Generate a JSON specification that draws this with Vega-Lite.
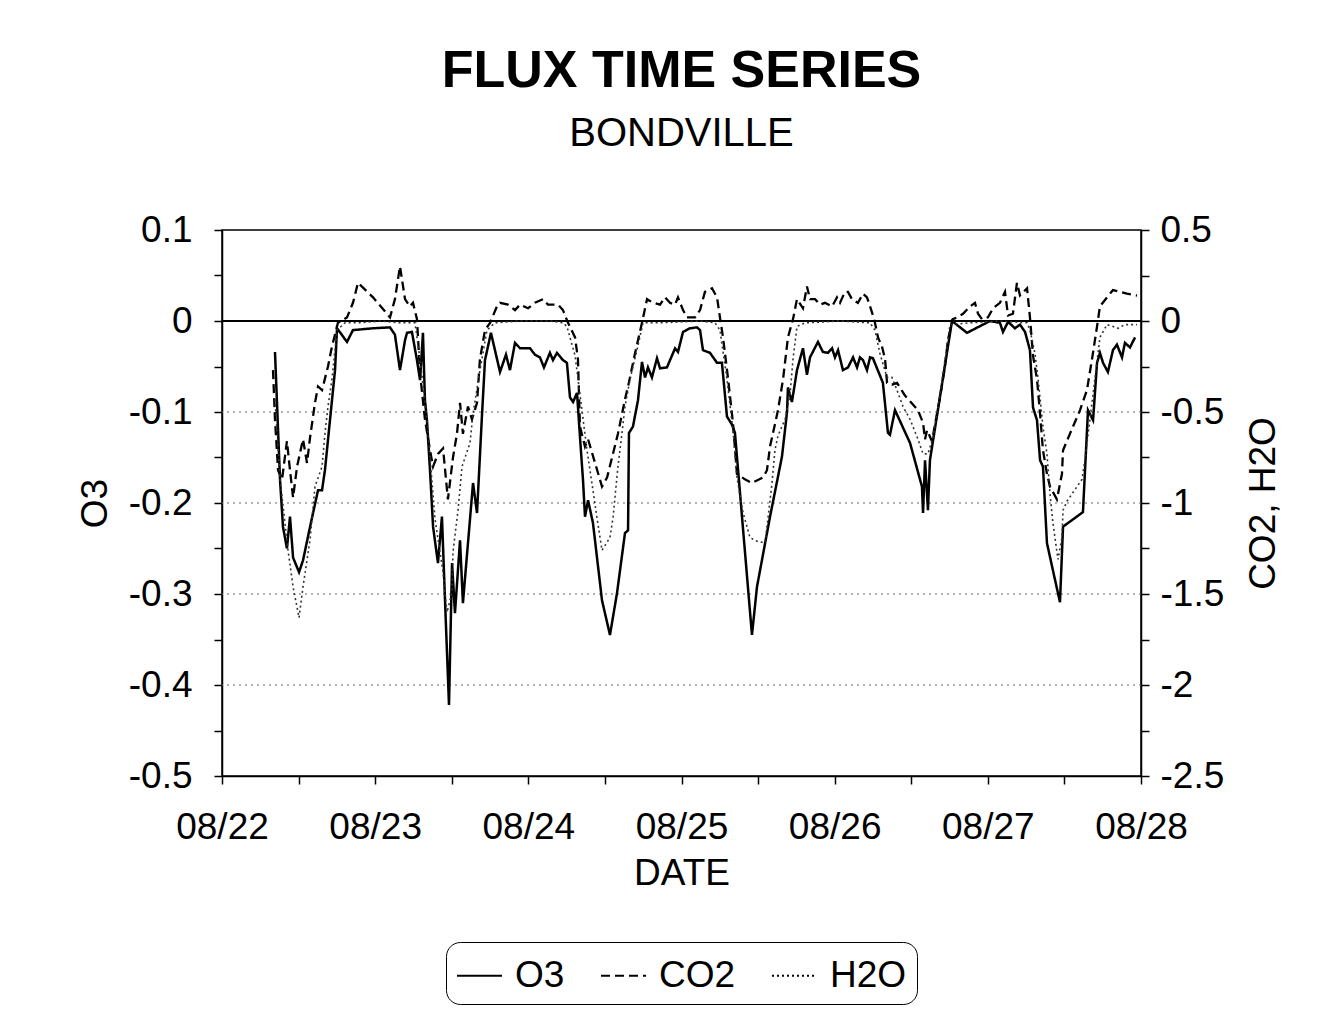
{
  "$schema": "https://vega.github.io/schema/vega-lite/v6.json",
  "autosize": {"type": "none"},
  "padding": {"left": 222, "top": 230, "right": 197, "bottom": 243},
  "width": 919,
  "height": 546,
  "background": "white",
  "title": {
    "text": "FLUX TIME SERIES",
    "subtitle": "BONDVILLE",
    "fontSize": 52,
    "fontWeight": "bold",
    "subtitleFontSize": 40,
    "color": "black",
    "subtitleColor": "black",
    "anchor": "middle",
    "offset": 56,
    "subtitlePadding": 16
  },
  "config": {
    "font": "Liberation Sans",
    "view": {"stroke": "black", "strokeWidth": 1.5},
    "axis": {
      "labelColor": "black",
      "titleColor": "black",
      "domainColor": "black",
      "tickColor": "black",
      "domainWidth": 1.5,
      "tickWidth": 1.5,
      "labelFontSize": 37,
      "titleFontSize": 37,
      "titleFontWeight": "normal",
      "grid": false,
      "labelOverlap": false,
      "labelFlush": false
    }
  },
  "data": {
    "values": [
      {"series": "O3", "day": 22.346, "value": -0.034},
      {"series": "O3", "day": 22.366, "value": -0.12},
      {"series": "O3", "day": 22.379, "value": -0.175},
      {"series": "O3", "day": 22.398, "value": -0.226},
      {"series": "O3", "day": 22.424, "value": -0.25},
      {"series": "O3", "day": 22.444, "value": -0.215},
      {"series": "O3", "day": 22.464, "value": -0.26},
      {"series": "O3", "day": 22.503, "value": -0.276},
      {"series": "O3", "day": 22.529, "value": -0.263},
      {"series": "O3", "day": 22.575, "value": -0.226},
      {"series": "O3", "day": 22.627, "value": -0.186},
      {"series": "O3", "day": 22.653, "value": -0.186},
      {"series": "O3", "day": 22.672, "value": -0.164},
      {"series": "O3", "day": 22.705, "value": -0.109},
      {"series": "O3", "day": 22.738, "value": -0.054},
      {"series": "O3", "day": 22.751, "value": -0.008},
      {"series": "O3", "day": 22.816, "value": -0.023},
      {"series": "O3", "day": 22.855, "value": -0.01},
      {"series": "O3", "day": 22.986, "value": -0.008},
      {"series": "O3", "day": 23.097, "value": -0.007},
      {"series": "O3", "day": 23.129, "value": -0.015},
      {"series": "O3", "day": 23.162, "value": -0.054},
      {"series": "O3", "day": 23.195, "value": -0.021},
      {"series": "O3", "day": 23.208, "value": -0.013},
      {"series": "O3", "day": 23.24, "value": -0.012},
      {"series": "O3", "day": 23.273, "value": -0.043},
      {"series": "O3", "day": 23.293, "value": -0.065},
      {"series": "O3", "day": 23.312, "value": -0.013},
      {"series": "O3", "day": 23.325, "value": -0.087},
      {"series": "O3", "day": 23.338, "value": -0.109},
      {"series": "O3", "day": 23.358, "value": -0.164},
      {"series": "O3", "day": 23.378, "value": -0.226},
      {"series": "O3", "day": 23.41, "value": -0.266},
      {"series": "O3", "day": 23.436, "value": -0.215},
      {"series": "O3", "day": 23.456, "value": -0.307},
      {"series": "O3", "day": 23.482, "value": -0.422},
      {"series": "O3", "day": 23.502, "value": -0.266},
      {"series": "O3", "day": 23.521, "value": -0.321},
      {"series": "O3", "day": 23.554, "value": -0.241},
      {"series": "O3", "day": 23.573, "value": -0.31},
      {"series": "O3", "day": 23.639, "value": -0.178},
      {"series": "O3", "day": 23.665, "value": -0.211},
      {"series": "O3", "day": 23.697, "value": -0.105},
      {"series": "O3", "day": 23.717, "value": -0.043},
      {"series": "O3", "day": 23.756, "value": -0.013},
      {"series": "O3", "day": 23.815, "value": -0.056},
      {"series": "O3", "day": 23.854, "value": -0.037},
      {"series": "O3", "day": 23.88, "value": -0.054},
      {"series": "O3", "day": 23.913, "value": -0.024},
      {"series": "O3", "day": 23.946, "value": -0.03},
      {"series": "O3", "day": 24.011, "value": -0.03},
      {"series": "O3", "day": 24.043, "value": -0.037},
      {"series": "O3", "day": 24.076, "value": -0.04},
      {"series": "O3", "day": 24.102, "value": -0.051},
      {"series": "O3", "day": 24.141, "value": -0.035},
      {"series": "O3", "day": 24.161, "value": -0.043},
      {"series": "O3", "day": 24.187, "value": -0.035},
      {"series": "O3", "day": 24.226, "value": -0.043},
      {"series": "O3", "day": 24.252, "value": -0.046},
      {"series": "O3", "day": 24.272, "value": -0.084},
      {"series": "O3", "day": 24.292, "value": -0.089},
      {"series": "O3", "day": 24.318, "value": -0.079},
      {"series": "O3", "day": 24.337, "value": -0.127},
      {"series": "O3", "day": 24.357, "value": -0.175},
      {"series": "O3", "day": 24.37, "value": -0.215},
      {"series": "O3", "day": 24.39, "value": -0.197},
      {"series": "O3", "day": 24.422, "value": -0.222},
      {"series": "O3", "day": 24.481, "value": -0.307},
      {"series": "O3", "day": 24.533, "value": -0.345},
      {"series": "O3", "day": 24.579, "value": -0.299},
      {"series": "O3", "day": 24.631, "value": -0.233},
      {"series": "O3", "day": 24.651, "value": -0.23},
      {"series": "O3", "day": 24.657, "value": -0.123},
      {"series": "O3", "day": 24.683, "value": -0.116},
      {"series": "O3", "day": 24.716, "value": -0.087},
      {"series": "O3", "day": 24.742, "value": -0.045},
      {"series": "O3", "day": 24.762, "value": -0.062},
      {"series": "O3", "day": 24.781, "value": -0.051},
      {"series": "O3", "day": 24.807, "value": -0.062},
      {"series": "O3", "day": 24.84, "value": -0.041},
      {"series": "O3", "day": 24.86, "value": -0.052},
      {"series": "O3", "day": 24.905, "value": -0.051},
      {"series": "O3", "day": 24.958, "value": -0.03},
      {"series": "O3", "day": 24.977, "value": -0.034},
      {"series": "O3", "day": 25.01, "value": -0.012},
      {"series": "O3", "day": 25.055, "value": -0.008},
      {"series": "O3", "day": 25.101, "value": -0.007},
      {"series": "O3", "day": 25.121, "value": -0.01},
      {"series": "O3", "day": 25.14, "value": -0.032},
      {"series": "O3", "day": 25.186, "value": -0.035},
      {"series": "O3", "day": 25.232, "value": -0.046},
      {"series": "O3", "day": 25.264, "value": -0.046},
      {"series": "O3", "day": 25.297, "value": -0.105},
      {"series": "O3", "day": 25.33, "value": -0.114},
      {"series": "O3", "day": 25.349, "value": -0.123},
      {"series": "O3", "day": 25.46, "value": -0.345},
      {"series": "O3", "day": 25.493, "value": -0.292},
      {"series": "O3", "day": 25.578, "value": -0.215},
      {"series": "O3", "day": 25.656, "value": -0.149},
      {"series": "O3", "day": 25.689, "value": -0.1},
      {"series": "O3", "day": 25.695, "value": -0.073},
      {"series": "O3", "day": 25.721, "value": -0.089},
      {"series": "O3", "day": 25.754, "value": -0.054},
      {"series": "O3", "day": 25.793, "value": -0.03},
      {"series": "O3", "day": 25.819, "value": -0.059},
      {"series": "O3", "day": 25.839, "value": -0.04},
      {"series": "O3", "day": 25.891, "value": -0.023},
      {"series": "O3", "day": 25.923, "value": -0.034},
      {"series": "O3", "day": 25.956, "value": -0.035},
      {"series": "O3", "day": 25.983, "value": -0.03},
      {"series": "O3", "day": 26.002, "value": -0.04},
      {"series": "O3", "day": 26.022, "value": -0.032},
      {"series": "O3", "day": 26.054, "value": -0.054},
      {"series": "O3", "day": 26.087, "value": -0.051},
      {"series": "O3", "day": 26.12, "value": -0.04},
      {"series": "O3", "day": 26.146, "value": -0.051},
      {"series": "O3", "day": 26.165, "value": -0.04},
      {"series": "O3", "day": 26.185, "value": -0.043},
      {"series": "O3", "day": 26.211, "value": -0.054},
      {"series": "O3", "day": 26.231, "value": -0.04},
      {"series": "O3", "day": 26.25, "value": -0.041},
      {"series": "O3", "day": 26.315, "value": -0.068},
      {"series": "O3", "day": 26.348, "value": -0.123},
      {"series": "O3", "day": 26.361, "value": -0.125},
      {"series": "O3", "day": 26.394, "value": -0.098},
      {"series": "O3", "day": 26.492, "value": -0.134},
      {"series": "O3", "day": 26.57, "value": -0.182},
      {"series": "O3", "day": 26.577, "value": -0.211},
      {"series": "O3", "day": 26.59, "value": -0.153},
      {"series": "O3", "day": 26.609, "value": -0.208},
      {"series": "O3", "day": 26.622, "value": -0.153},
      {"series": "O3", "day": 26.766, "value": 0.0},
      {"series": "O3", "day": 26.864, "value": -0.013},
      {"series": "O3", "day": 27.014, "value": 0.0},
      {"series": "O3", "day": 27.079, "value": -0.002},
      {"series": "O3", "day": 27.099, "value": -0.012},
      {"series": "O3", "day": 27.132, "value": -0.001},
      {"series": "O3", "day": 27.177, "value": -0.008},
      {"series": "O3", "day": 27.21, "value": -0.004},
      {"series": "O3", "day": 27.243, "value": -0.012},
      {"series": "O3", "day": 27.275, "value": -0.032},
      {"series": "O3", "day": 27.295, "value": -0.095},
      {"series": "O3", "day": 27.321, "value": -0.109},
      {"series": "O3", "day": 27.341, "value": -0.153},
      {"series": "O3", "day": 27.36, "value": -0.16},
      {"series": "O3", "day": 27.386, "value": -0.244},
      {"series": "O3", "day": 27.425, "value": -0.274},
      {"series": "O3", "day": 27.471, "value": -0.309},
      {"series": "O3", "day": 27.491, "value": -0.226},
      {"series": "O3", "day": 27.621, "value": -0.21},
      {"series": "O3", "day": 27.654, "value": -0.098},
      {"series": "O3", "day": 27.687, "value": -0.109},
      {"series": "O3", "day": 27.713, "value": -0.046},
      {"series": "O3", "day": 27.732, "value": -0.035},
      {"series": "O3", "day": 27.752, "value": -0.046},
      {"series": "O3", "day": 27.784, "value": -0.056},
      {"series": "O3", "day": 27.817, "value": -0.032},
      {"series": "O3", "day": 27.843, "value": -0.026},
      {"series": "O3", "day": 27.876, "value": -0.04},
      {"series": "O3", "day": 27.895, "value": -0.024},
      {"series": "O3", "day": 27.928, "value": -0.029},
      {"series": "O3", "day": 27.961, "value": -0.018},

      {"series": "CO2", "day": 22.333, "value": -0.27},
      {"series": "CO2", "day": 22.346, "value": -0.54},
      {"series": "CO2", "day": 22.366, "value": -0.82},
      {"series": "CO2", "day": 22.392, "value": -0.87},
      {"series": "CO2", "day": 22.424, "value": -0.66},
      {"series": "CO2", "day": 22.444, "value": -0.82},
      {"series": "CO2", "day": 22.464, "value": -0.97},
      {"series": "CO2", "day": 22.49, "value": -0.8},
      {"series": "CO2", "day": 22.529, "value": -0.65},
      {"series": "CO2", "day": 22.555, "value": -0.78},
      {"series": "CO2", "day": 22.575, "value": -0.64},
      {"series": "CO2", "day": 22.607, "value": -0.45},
      {"series": "CO2", "day": 22.627, "value": -0.36},
      {"series": "CO2", "day": 22.653, "value": -0.38},
      {"series": "CO2", "day": 22.692, "value": -0.25},
      {"series": "CO2", "day": 22.718, "value": -0.14},
      {"series": "CO2", "day": 22.757, "value": -0.01},
      {"series": "CO2", "day": 22.816, "value": 0.02},
      {"series": "CO2", "day": 22.855, "value": 0.1},
      {"series": "CO2", "day": 22.888, "value": 0.21},
      {"series": "CO2", "day": 22.986, "value": 0.13},
      {"series": "CO2", "day": 23.097, "value": 0.02},
      {"series": "CO2", "day": 23.129, "value": 0.12},
      {"series": "CO2", "day": 23.162, "value": 0.3},
      {"series": "CO2", "day": 23.195, "value": 0.12},
      {"series": "CO2", "day": 23.227, "value": 0.08},
      {"series": "CO2", "day": 23.247, "value": 0.1},
      {"series": "CO2", "day": 23.273, "value": 0.01},
      {"series": "CO2", "day": 23.293, "value": -0.29},
      {"series": "CO2", "day": 23.325, "value": -0.54},
      {"series": "CO2", "day": 23.358, "value": -0.71},
      {"series": "CO2", "day": 23.378, "value": -0.8},
      {"series": "CO2", "day": 23.41, "value": -0.73},
      {"series": "CO2", "day": 23.443, "value": -0.7},
      {"series": "CO2", "day": 23.475, "value": -0.98},
      {"series": "CO2", "day": 23.508, "value": -0.75},
      {"series": "CO2", "day": 23.534, "value": -0.62},
      {"series": "CO2", "day": 23.554, "value": -0.45},
      {"series": "CO2", "day": 23.573, "value": -0.62},
      {"series": "CO2", "day": 23.606, "value": -0.47},
      {"series": "CO2", "day": 23.632, "value": -0.54},
      {"series": "CO2", "day": 23.665, "value": -0.45},
      {"series": "CO2", "day": 23.684, "value": -0.21},
      {"series": "CO2", "day": 23.717, "value": -0.05},
      {"series": "CO2", "day": 23.75, "value": -0.01},
      {"series": "CO2", "day": 23.795, "value": 0.08},
      {"series": "CO2", "day": 23.815, "value": 0.1},
      {"series": "CO2", "day": 23.867, "value": 0.09},
      {"series": "CO2", "day": 23.913, "value": 0.06},
      {"series": "CO2", "day": 23.946, "value": 0.09},
      {"series": "CO2", "day": 23.998, "value": 0.07},
      {"series": "CO2", "day": 24.043, "value": 0.1},
      {"series": "CO2", "day": 24.096, "value": 0.12},
      {"series": "CO2", "day": 24.128, "value": 0.09},
      {"series": "CO2", "day": 24.194, "value": 0.09},
      {"series": "CO2", "day": 24.226, "value": 0.06},
      {"series": "CO2", "day": 24.259, "value": -0.01},
      {"series": "CO2", "day": 24.305, "value": -0.09},
      {"series": "CO2", "day": 24.324, "value": -0.21},
      {"series": "CO2", "day": 24.337, "value": -0.58},
      {"series": "CO2", "day": 24.37, "value": -0.69},
      {"series": "CO2", "day": 24.39, "value": -0.65},
      {"series": "CO2", "day": 24.481, "value": -0.91},
      {"series": "CO2", "day": 24.514, "value": -0.86},
      {"series": "CO2", "day": 24.585, "value": -0.62},
      {"series": "CO2", "day": 24.631, "value": -0.43},
      {"series": "CO2", "day": 24.651, "value": -0.36},
      {"series": "CO2", "day": 24.696, "value": -0.18},
      {"series": "CO2", "day": 24.742, "value": -0.01},
      {"series": "CO2", "day": 24.775, "value": 0.12},
      {"series": "CO2", "day": 24.814, "value": 0.1},
      {"series": "CO2", "day": 24.86, "value": 0.09},
      {"series": "CO2", "day": 24.892, "value": 0.13},
      {"series": "CO2", "day": 24.925, "value": 0.1},
      {"series": "CO2", "day": 24.958, "value": 0.09},
      {"series": "CO2", "day": 24.977, "value": 0.13},
      {"series": "CO2", "day": 25.01, "value": 0.06},
      {"series": "CO2", "day": 25.036, "value": 0.02},
      {"series": "CO2", "day": 25.088, "value": 0.02},
      {"series": "CO2", "day": 25.121, "value": 0.06},
      {"series": "CO2", "day": 25.153, "value": 0.16},
      {"series": "CO2", "day": 25.199, "value": 0.18},
      {"series": "CO2", "day": 25.232, "value": 0.13},
      {"series": "CO2", "day": 25.251, "value": 0.02},
      {"series": "CO2", "day": 25.271, "value": -0.09},
      {"series": "CO2", "day": 25.303, "value": -0.31},
      {"series": "CO2", "day": 25.336, "value": -0.56},
      {"series": "CO2", "day": 25.362, "value": -0.84},
      {"series": "CO2", "day": 25.414, "value": -0.87},
      {"series": "CO2", "day": 25.46, "value": -0.89},
      {"series": "CO2", "day": 25.532, "value": -0.86},
      {"series": "CO2", "day": 25.558, "value": -0.82},
      {"series": "CO2", "day": 25.578, "value": -0.69},
      {"series": "CO2", "day": 25.63, "value": -0.49},
      {"series": "CO2", "day": 25.663, "value": -0.32},
      {"series": "CO2", "day": 25.695, "value": -0.09},
      {"series": "CO2", "day": 25.728, "value": 0.01},
      {"series": "CO2", "day": 25.754, "value": 0.12},
      {"series": "CO2", "day": 25.793, "value": 0.07},
      {"series": "CO2", "day": 25.819, "value": 0.19},
      {"series": "CO2", "day": 25.839, "value": 0.12},
      {"series": "CO2", "day": 25.872, "value": 0.12},
      {"series": "CO2", "day": 25.904, "value": 0.09},
      {"series": "CO2", "day": 25.937, "value": 0.1},
      {"series": "CO2", "day": 25.983, "value": 0.08},
      {"series": "CO2", "day": 26.015, "value": 0.13},
      {"series": "CO2", "day": 26.035, "value": 0.1},
      {"series": "CO2", "day": 26.067, "value": 0.16},
      {"series": "CO2", "day": 26.087, "value": 0.16},
      {"series": "CO2", "day": 26.113, "value": 0.12},
      {"series": "CO2", "day": 26.152, "value": 0.1},
      {"series": "CO2", "day": 26.185, "value": 0.15},
      {"series": "CO2", "day": 26.211, "value": 0.13},
      {"series": "CO2", "day": 26.231, "value": 0.08},
      {"series": "CO2", "day": 26.25, "value": 0.03},
      {"series": "CO2", "day": 26.263, "value": -0.01},
      {"series": "CO2", "day": 26.283, "value": -0.09},
      {"series": "CO2", "day": 26.309, "value": -0.14},
      {"series": "CO2", "day": 26.329, "value": -0.21},
      {"series": "CO2", "day": 26.342, "value": -0.34},
      {"series": "CO2", "day": 26.374, "value": -0.35},
      {"series": "CO2", "day": 26.407, "value": -0.34},
      {"series": "CO2", "day": 26.459, "value": -0.41},
      {"series": "CO2", "day": 26.544, "value": -0.49},
      {"series": "CO2", "day": 26.577, "value": -0.56},
      {"series": "CO2", "day": 26.59, "value": -0.65},
      {"series": "CO2", "day": 26.603, "value": -0.6},
      {"series": "CO2", "day": 26.635, "value": -0.66},
      {"series": "CO2", "day": 26.688, "value": -0.42},
      {"series": "CO2", "day": 26.72, "value": -0.25},
      {"series": "CO2", "day": 26.74, "value": -0.1},
      {"series": "CO2", "day": 26.772, "value": 0.01},
      {"series": "CO2", "day": 26.799, "value": 0.02},
      {"series": "CO2", "day": 26.838, "value": 0.04},
      {"series": "CO2", "day": 26.884, "value": 0.08},
      {"series": "CO2", "day": 26.916, "value": 0.1},
      {"series": "CO2", "day": 26.936, "value": 0.04},
      {"series": "CO2", "day": 26.962, "value": 0.01},
      {"series": "CO2", "day": 27.001, "value": 0.02},
      {"series": "CO2", "day": 27.034, "value": 0.07},
      {"series": "CO2", "day": 27.079, "value": 0.1},
      {"series": "CO2", "day": 27.112, "value": 0.16},
      {"series": "CO2", "day": 27.132, "value": 0.03},
      {"series": "CO2", "day": 27.164, "value": 0.04},
      {"series": "CO2", "day": 27.19, "value": 0.21},
      {"series": "CO2", "day": 27.21, "value": 0.14},
      {"series": "CO2", "day": 27.256, "value": 0.18},
      {"series": "CO2", "day": 27.275, "value": 0.02},
      {"series": "CO2", "day": 27.295, "value": -0.19},
      {"series": "CO2", "day": 27.321, "value": -0.32},
      {"series": "CO2", "day": 27.341, "value": -0.51},
      {"series": "CO2", "day": 27.36, "value": -0.71},
      {"series": "CO2", "day": 27.386, "value": -0.84},
      {"series": "CO2", "day": 27.406, "value": -0.91},
      {"series": "CO2", "day": 27.451, "value": -0.98},
      {"series": "CO2", "day": 27.484, "value": -0.84},
      {"series": "CO2", "day": 27.491, "value": -0.71},
      {"series": "CO2", "day": 27.556, "value": -0.58},
      {"series": "CO2", "day": 27.602, "value": -0.49},
      {"series": "CO2", "day": 27.647, "value": -0.38},
      {"series": "CO2", "day": 27.68, "value": -0.21},
      {"series": "CO2", "day": 27.713, "value": -0.03},
      {"series": "CO2", "day": 27.732, "value": 0.08},
      {"series": "CO2", "day": 27.778, "value": 0.13},
      {"series": "CO2", "day": 27.817, "value": 0.17},
      {"series": "CO2", "day": 27.863, "value": 0.16},
      {"series": "CO2", "day": 27.908, "value": 0.15},
      {"series": "CO2", "day": 27.974, "value": 0.14},

      {"series": "H2O", "day": 22.346, "value": -0.43},
      {"series": "H2O", "day": 22.379, "value": -0.87},
      {"series": "H2O", "day": 22.431, "value": -1.26},
      {"series": "H2O", "day": 22.464, "value": -1.46},
      {"series": "H2O", "day": 22.503, "value": -1.63},
      {"series": "H2O", "day": 22.529, "value": -1.46},
      {"series": "H2O", "day": 22.575, "value": -1.2},
      {"series": "H2O", "day": 22.607, "value": -0.91},
      {"series": "H2O", "day": 22.653, "value": -0.8},
      {"series": "H2O", "day": 22.672, "value": -0.62},
      {"series": "H2O", "day": 22.692, "value": -0.47},
      {"series": "H2O", "day": 22.718, "value": -0.32},
      {"series": "H2O", "day": 22.751, "value": -0.05},
      {"series": "H2O", "day": 22.803, "value": -0.01},
      {"series": "H2O", "day": 22.901, "value": -0.01},
      {"series": "H2O", "day": 23.032, "value": 0.0},
      {"series": "H2O", "day": 23.162, "value": -0.01},
      {"series": "H2O", "day": 23.26, "value": -0.01},
      {"series": "H2O", "day": 23.293, "value": -0.21},
      {"series": "H2O", "day": 23.338, "value": -0.54},
      {"series": "H2O", "day": 23.391, "value": -1.09},
      {"series": "H2O", "day": 23.443, "value": -1.38},
      {"series": "H2O", "day": 23.469, "value": -1.6},
      {"series": "H2O", "day": 23.502, "value": -1.49},
      {"series": "H2O", "day": 23.508, "value": -1.27},
      {"series": "H2O", "day": 23.541, "value": -1.04},
      {"series": "H2O", "day": 23.567, "value": -0.8},
      {"series": "H2O", "day": 23.619, "value": -0.67},
      {"series": "H2O", "day": 23.639, "value": -0.51},
      {"series": "H2O", "day": 23.684, "value": -0.27},
      {"series": "H2O", "day": 23.73, "value": -0.05},
      {"series": "H2O", "day": 23.782, "value": -0.01},
      {"series": "H2O", "day": 23.946, "value": 0.0},
      {"series": "H2O", "day": 24.141, "value": 0.0},
      {"series": "H2O", "day": 24.226, "value": -0.01},
      {"series": "H2O", "day": 24.252, "value": -0.03},
      {"series": "H2O", "day": 24.305, "value": -0.19},
      {"series": "H2O", "day": 24.35, "value": -0.49},
      {"series": "H2O", "day": 24.383, "value": -0.71},
      {"series": "H2O", "day": 24.422, "value": -0.93},
      {"series": "H2O", "day": 24.448, "value": -1.08},
      {"series": "H2O", "day": 24.481, "value": -1.26},
      {"series": "H2O", "day": 24.533, "value": -1.19},
      {"series": "H2O", "day": 24.553, "value": -1.08},
      {"series": "H2O", "day": 24.585, "value": -0.8},
      {"series": "H2O", "day": 24.611, "value": -0.62},
      {"series": "H2O", "day": 24.631, "value": -0.47},
      {"series": "H2O", "day": 24.664, "value": -0.32},
      {"series": "H2O", "day": 24.709, "value": -0.16},
      {"series": "H2O", "day": 24.749, "value": -0.01},
      {"series": "H2O", "day": 24.86, "value": -0.01},
      {"series": "H2O", "day": 25.121, "value": 0.0},
      {"series": "H2O", "day": 25.219, "value": -0.01},
      {"series": "H2O", "day": 25.251, "value": -0.05},
      {"series": "H2O", "day": 25.297, "value": -0.32},
      {"series": "H2O", "day": 25.336, "value": -0.6},
      {"series": "H2O", "day": 25.362, "value": -0.86},
      {"series": "H2O", "day": 25.401, "value": -1.05},
      {"series": "H2O", "day": 25.447, "value": -1.19},
      {"series": "H2O", "day": 25.493, "value": -1.21},
      {"series": "H2O", "day": 25.545, "value": -1.22},
      {"series": "H2O", "day": 25.565, "value": -1.08},
      {"series": "H2O", "day": 25.591, "value": -0.89},
      {"series": "H2O", "day": 25.61, "value": -0.71},
      {"series": "H2O", "day": 25.63, "value": -0.63},
      {"series": "H2O", "day": 25.676, "value": -0.54},
      {"series": "H2O", "day": 25.708, "value": -0.41},
      {"series": "H2O", "day": 25.728, "value": -0.21},
      {"series": "H2O", "day": 25.754, "value": -0.03},
      {"series": "H2O", "day": 25.806, "value": -0.01},
      {"series": "H2O", "day": 26.035, "value": 0.0},
      {"series": "H2O", "day": 26.231, "value": -0.01},
      {"series": "H2O", "day": 26.263, "value": -0.05},
      {"series": "H2O", "day": 26.296, "value": -0.18},
      {"series": "H2O", "day": 26.342, "value": -0.31},
      {"series": "H2O", "day": 26.374, "value": -0.31},
      {"series": "H2O", "day": 26.407, "value": -0.38},
      {"series": "H2O", "day": 26.446, "value": -0.47},
      {"series": "H2O", "day": 26.492, "value": -0.54},
      {"series": "H2O", "day": 26.544, "value": -0.65},
      {"series": "H2O", "day": 26.577, "value": -0.73},
      {"series": "H2O", "day": 26.609, "value": -0.73},
      {"series": "H2O", "day": 26.642, "value": -0.64},
      {"series": "H2O", "day": 26.688, "value": -0.4},
      {"series": "H2O", "day": 26.733, "value": -0.14},
      {"series": "H2O", "day": 26.753, "value": -0.02},
      {"series": "H2O", "day": 26.884, "value": -0.01},
      {"series": "H2O", "day": 27.079, "value": 0.0},
      {"series": "H2O", "day": 27.256, "value": -0.01},
      {"series": "H2O", "day": 27.275, "value": -0.05},
      {"series": "H2O", "day": 27.308, "value": -0.18},
      {"series": "H2O", "day": 27.327, "value": -0.31},
      {"series": "H2O", "day": 27.36, "value": -0.58},
      {"series": "H2O", "day": 27.386, "value": -0.73},
      {"series": "H2O", "day": 27.406, "value": -0.95},
      {"series": "H2O", "day": 27.425, "value": -1.11},
      {"series": "H2O", "day": 27.458, "value": -1.31},
      {"series": "H2O", "day": 27.484, "value": -1.19},
      {"series": "H2O", "day": 27.491, "value": -1.04},
      {"series": "H2O", "day": 27.517, "value": -0.99},
      {"series": "H2O", "day": 27.582, "value": -0.91},
      {"series": "H2O", "day": 27.615, "value": -0.87},
      {"series": "H2O", "day": 27.634, "value": -0.76},
      {"series": "H2O", "day": 27.667, "value": -0.54},
      {"series": "H2O", "day": 27.7, "value": -0.31},
      {"series": "H2O", "day": 27.732, "value": -0.09},
      {"series": "H2O", "day": 27.778, "value": -0.02},
      {"series": "H2O", "day": 27.817, "value": -0.03},
      {"series": "H2O", "day": 27.85, "value": -0.04},
      {"series": "H2O", "day": 27.895, "value": -0.02},
      {"series": "H2O", "day": 27.974, "value": -0.02}
    ]
  },
  "layer": [
    {
      "data": {"values": [{"gridline": -0.1}, {"gridline": -0.2}, {"gridline": -0.3}, {"gridline": -0.4}]},
      "mark": {"type": "rule", "color": "#666666", "strokeWidth": 1, "strokeDash": [2, 4]},
      "encoding": {
        "y": {"field": "gridline", "type": "quantitative", "scale": {"domain": [-0.5, 0.1], "nice": false, "zero": false}, "axis": null}
      }
    },
    {
      "data": {"values": [{"baseline": 0}]},
      "mark": {"type": "rule", "color": "black", "strokeWidth": 2},
      "encoding": {
        "y": {"field": "baseline", "type": "quantitative", "scale": {"domain": [-0.5, 0.1], "nice": false, "zero": false}, "axis": null}
      }
    },
    {
      "transform": [{"filter": "datum.series == 'O3'"}],
      "mark": {"type": "line", "color": "black", "strokeWidth": 2.5},
      "encoding": {
        "x": {
          "field": "day", "type": "quantitative",
          "scale": {"domain": [22, 28], "nice": false, "zero": false},
          "axis": {
            "title": "DATE",
            "values": [22, 22.5, 23, 23.5, 24, 24.5, 25, 25.5, 26, 26.5, 27, 27.5, 28],
            "labelExpr": "datum.value % 1 == 0 ? '08/' + datum.value : ''",
            "tickSize": 8, "labelPadding": 25, "titlePadding": 10
          }
        },
        "y": {
          "field": "value", "type": "quantitative",
          "scale": {"domain": [-0.5, 0.1], "nice": false, "zero": false},
          "axis": {
            "orient": "left",
            "title": "O3",
            "values": [0.1, 0.05, 0, -0.05, -0.1, -0.15, -0.2, -0.25, -0.3, -0.35, -0.4, -0.45, -0.5],
            "labelExpr": "abs(datum.value * 10 - round(datum.value * 10)) < 0.000001 ? replace(format(datum.value, '.1~f'), '\u2212', '-') : ''",
            "tickSize": 8, "labelPadding": 22, "titlePadding": 14
          }
        },
        "strokeDash": {
          "field": "series", "type": "nominal",
          "scale": {"domain": ["O3", "CO2", "H2O"], "range": [[1, 0], [9, 5], [2, 3]]},
          "legend": {
            "title": null, "orient": "none", "legendX": 224, "legendY": 712, "direction": "horizontal",
            "strokeColor": "black", "cornerRadius": 14, "padding": 10,
            "labelFontSize": 37, "labelColor": "black", "symbolType": "stroke", "symbolSize": 2025,
            "symbolStrokeWidth": 2, "symbolStrokeColor": "black", "columnPadding": 32, "labelOffset": 12
          }
        }
      }
    },
    {
      "transform": [{"filter": "datum.series == 'CO2'"}],
      "mark": {"type": "line", "color": "black", "strokeWidth": 2.3},
      "encoding": {
        "x": {
          "field": "day", "type": "quantitative",
          "scale": {"domain": [22, 28], "nice": false, "zero": false},
          "axis": {
            "title": "DATE",
            "values": [22, 22.5, 23, 23.5, 24, 24.5, 25, 25.5, 26, 26.5, 27, 27.5, 28],
            "labelExpr": "datum.value % 1 == 0 ? '08/' + datum.value : ''",
            "tickSize": 8, "labelPadding": 25, "titlePadding": 10
          }
        },
        "y": {
          "field": "value", "type": "quantitative",
          "scale": {"domain": [-2.5, 0.5], "nice": false, "zero": false},
          "axis": {
            "orient": "right",
            "title": "CO2, H2O",
            "titleAngle": 270,
            "titleBaseline": "top",
            "values": [0.5, 0.25, 0, -0.25, -0.5, -0.75, -1, -1.25, -1.5, -1.75, -2, -2.25, -2.5],
            "labelExpr": "abs(datum.value * 2 - round(datum.value * 2)) < 0.000001 ? replace(format(datum.value, '.1~f'), '\u2212', '-') : ''",
            "tickSize": 8, "labelPadding": 11, "titlePadding": 22
          }
        },
        "strokeDash": {
          "field": "series", "type": "nominal",
          "scale": {"domain": ["O3", "CO2", "H2O"], "range": [[1, 0], [9, 5], [2, 3]]},
          "legend": {
            "title": null, "orient": "none", "legendX": 224, "legendY": 712, "direction": "horizontal",
            "strokeColor": "black", "cornerRadius": 14, "padding": 10,
            "labelFontSize": 37, "labelColor": "black", "symbolType": "stroke", "symbolSize": 2025,
            "symbolStrokeWidth": 2, "symbolStrokeColor": "black", "columnPadding": 32, "labelOffset": 12
          }
        }
      }
    },
    {
      "transform": [{"filter": "datum.series == 'H2O'"}],
      "mark": {"type": "line", "color": "#333333", "strokeWidth": 1.6},
      "encoding": {
        "x": {
          "field": "day", "type": "quantitative",
          "scale": {"domain": [22, 28], "nice": false, "zero": false},
          "axis": {
            "title": "DATE",
            "values": [22, 22.5, 23, 23.5, 24, 24.5, 25, 25.5, 26, 26.5, 27, 27.5, 28],
            "labelExpr": "datum.value % 1 == 0 ? '08/' + datum.value : ''",
            "tickSize": 8, "labelPadding": 25, "titlePadding": 10
          }
        },
        "y": {
          "field": "value", "type": "quantitative",
          "scale": {"domain": [-2.5, 0.5], "nice": false, "zero": false},
          "axis": null
        },
        "strokeDash": {
          "field": "series", "type": "nominal",
          "scale": {"domain": ["O3", "CO2", "H2O"], "range": [[1, 0], [9, 5], [2, 3]]},
          "legend": {
            "title": null, "orient": "none", "legendX": 224, "legendY": 712, "direction": "horizontal",
            "strokeColor": "black", "cornerRadius": 14, "padding": 10,
            "labelFontSize": 37, "labelColor": "black", "symbolType": "stroke", "symbolSize": 2025,
            "symbolStrokeWidth": 2, "symbolStrokeColor": "black", "columnPadding": 32, "labelOffset": 12
          }
        }
      }
    }
  ],
  "resolve": {"scale": {"y": "independent"}, "axis": {"y": "independent"}}
}
